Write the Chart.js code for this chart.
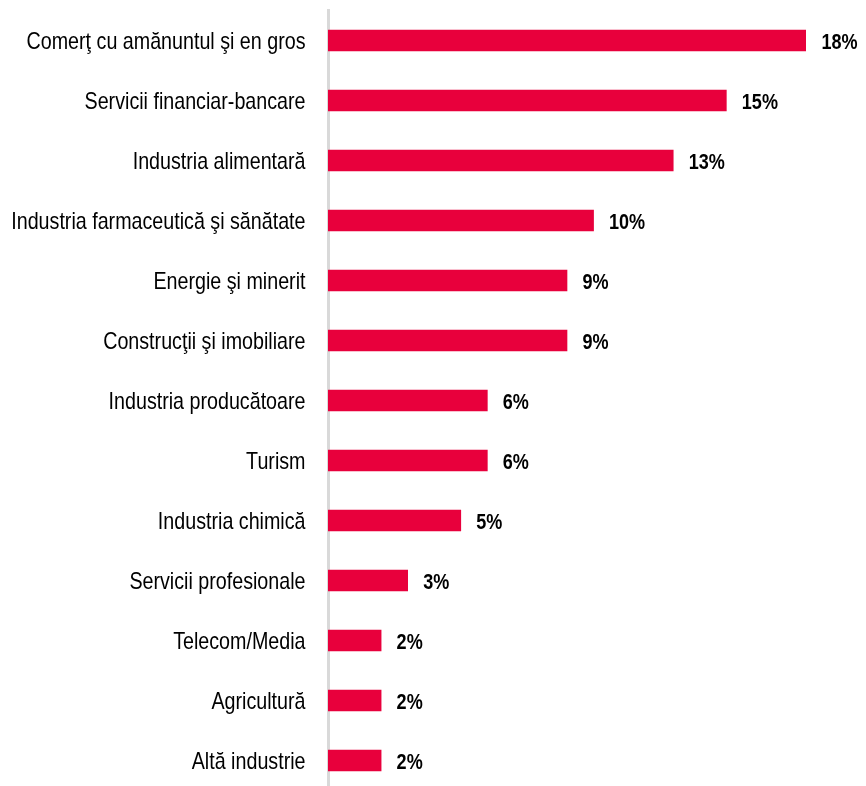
<!DOCTYPE html>
<html lang="ro">
<head>
<meta charset="utf-8">
<title>Industrii</title>
<script src="https://cdn.jsdelivr.net/npm/chart.js@4.4.1/dist/chart.umd.min.js"></script>
<style>
  html, body { margin: 0; padding: 0; background: #fff; overflow: hidden; }
  #wrap { width: 866px; height: 786px; overflow: hidden; }
  canvas { display: block; }
</style>
</head>
<body>
<div id="wrap"><canvas id="chart" width="866" height="800"></canvas></div>
<script>
const industries = [
  "Comerţ cu amănuntul şi en gros",
  "Servicii financiar-bancare",
  "Industria alimentară",
  "Industria farmaceutică şi sănătate",
  "Energie şi minerit",
  "Construcţii şi imobiliare",
  "Industria producătoare",
  "Turism",
  "Industria chimică",
  "Servicii profesionale",
  "Telecom/Media",
  "Agricultură",
  "Altă industrie",
];
const shares = [18, 15, 13, 10, 9, 9, 6, 6, 5, 3, 2, 2, 2];

const FONT = "'Liberation Sans', Arial, sans-serif";
const NARROW = 0.82; // squeeze Liberation Sans down to a narrow face
const BAR_RED = "#E8003C";

// draws text squeezed horizontally, anchored at (x, y) on the baseline
function narrowText(ctx, text, x, y, align) {
  ctx.save();
  ctx.translate(x, y);
  ctx.scale(NARROW, 1);
  ctx.textAlign = align;
  ctx.textBaseline = "alphabetic";
  ctx.fillText(text, 0, 0);
  ctx.restore();
}

// category names left of the axis and values right of each bar
const narrowLabels = {
  id: "narrowLabels",
  afterDatasetsDraw(chart) {
    const { ctx, chartArea } = chart;
    const yScale = chart.scales.y;
    const meta = chart.getDatasetMeta(0);
    ctx.save();
    ctx.fillStyle = "#000";

    ctx.font = "24px " + FONT;
    industries.forEach((name, i) => {
      const y = yScale.getPixelForTick(i);
      narrowText(ctx, name, chartArea.left - 22.5, y + 8.5, "right");
    });

    ctx.font = "bold 22px " + FONT;
    meta.data.forEach((bar, i) => {
      narrowText(ctx, shares[i] + "%", bar.x + 15.5, bar.y + 8.5, "left");
    });
    ctx.restore();
  },
};

new Chart(document.getElementById("chart"), {
  type: "bar",
  data: {
    labels: industries,
    datasets: [
      {
        data: shares,
        backgroundColor: BAR_RED,
        borderWidth: 0,
        barThickness: 21,
      },
    ],
  },
  options: {
    indexAxis: "y",
    responsive: false,
    maintainAspectRatio: false,
    animation: false,
    layout: { padding: { top: 10.5, bottom: 9.5, right: 60, left: 0 } },
    plugins: { legend: { display: false }, tooltip: { enabled: false } },
    scales: {
      x: { display: false, min: 0, max: 18 },
      y: {
        grid: { display: false, drawTicks: false },
        border: { display: true, color: "#d9d9d9", width: 3 },
        ticks: { display: false },
        afterFit(scale) {
          scale.width = 328;
          scale.paddingTop = 0;
          scale.paddingBottom = 0;
        },
      },
    },
  },
  plugins: [narrowLabels],
});
</script>
</body>
</html>
